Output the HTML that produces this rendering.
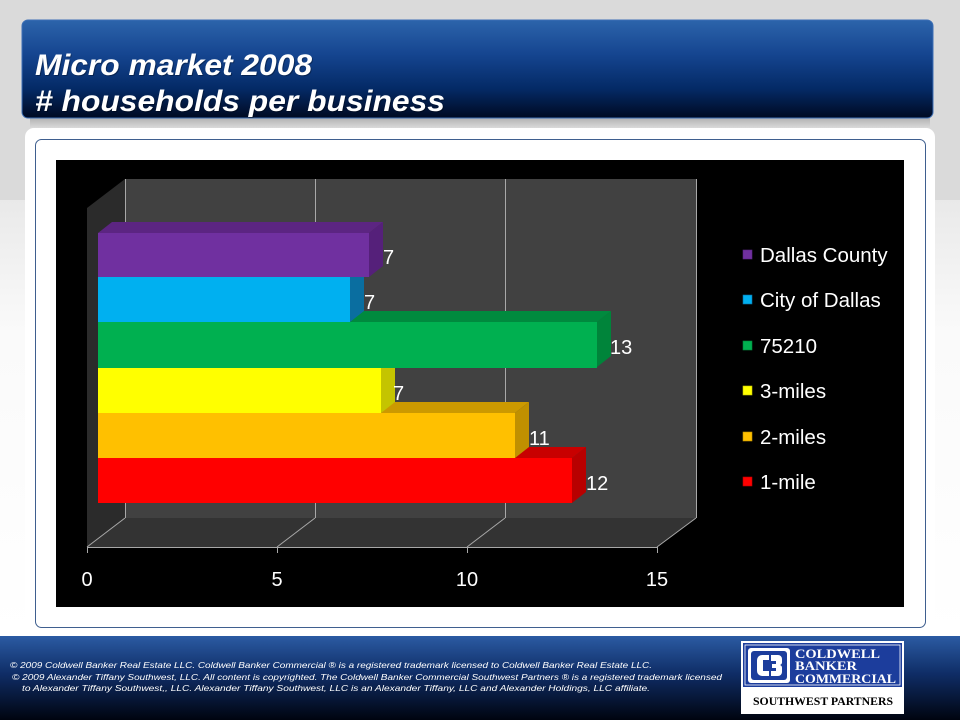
<!DOCTYPE html>
<html><head><meta charset="utf-8"><style>
html,body{margin:0;padding:0;width:960px;height:720px;overflow:hidden;background:#fff}
svg{display:block}
</style></head><body>
<svg width="960" height="720" viewBox="0 0 960 720" xmlns="http://www.w3.org/2000/svg" font-family="'Liberation Sans', Arial, sans-serif">
<defs>
<linearGradient id="bgLow" x1="0" y1="0" x2="0" y2="1">
<stop offset="0" stop-color="#e9e9e9"/><stop offset="0.3" stop-color="#fafafa"/><stop offset="1" stop-color="#ffffff"/>
</linearGradient>
<linearGradient id="title" x1="0" y1="0" x2="0" y2="1">
<stop offset="0" stop-color="#2c64ab"/><stop offset="0.35" stop-color="#154590"/><stop offset="0.7" stop-color="#042a66"/><stop offset="1" stop-color="#000a22"/>
</linearGradient>
<linearGradient id="foot" x1="0" y1="0" x2="0" y2="1">
<stop offset="0" stop-color="#2b5ba3"/><stop offset="0.45" stop-color="#0f2d66"/><stop offset="1" stop-color="#00040f"/>
</linearGradient>
<linearGradient id="shadow" x1="0" y1="0" x2="0" y2="1">
<stop offset="0" stop-color="#8a8a8a"/><stop offset="1" stop-color="#d9d9d9"/>
</linearGradient>
</defs>

<!-- background -->
<rect x="0" y="0" width="960" height="200" fill="#dadada"/>
<rect x="0" y="200" width="960" height="436" fill="url(#bgLow)"/>

<!-- title shadow -->
<rect x="30" y="116" width="900" height="12" fill="url(#shadow)" opacity="0.6"/>
<!-- title bar -->
<rect x="22" y="20" width="911" height="98" rx="6" fill="url(#title)" stroke="#3d6fb5" stroke-width="1"/>
<g font-weight="bold" font-style="italic" font-size="30" fill="#000" opacity="0.3">
<text x="36" y="76" textLength="277" lengthAdjust="spacingAndGlyphs">Micro market 2008</text>
<text x="36" y="112" textLength="410" lengthAdjust="spacingAndGlyphs"># households per business</text>
</g>
<g font-weight="bold" font-style="italic" font-size="30" fill="#ffffff">
<text x="35" y="75" textLength="277" lengthAdjust="spacingAndGlyphs">Micro market 2008</text>
<text x="35" y="111" textLength="410" lengthAdjust="spacingAndGlyphs"># households per business</text>
</g>

<!-- panel -->
<rect x="25" y="128" width="910" height="506" rx="9" fill="#ffffff"/>
<rect x="35.5" y="139.5" width="890" height="488" rx="6" fill="#ffffff" stroke="#3f5f8f" stroke-width="1"/>

<!-- chart area -->
<rect x="56" y="160" width="848" height="447" fill="#000000"/>

<!-- back wall -->
<rect x="125" y="179" width="571" height="339" fill="#414141"/>
<!-- left wall -->
<polygon points="87,208 125,179 125,518 87,547" fill="#2b2b2b"/>
<!-- floor -->
<polygon points="87,547 125,518 696,518 657,547" fill="#333333"/>

<!-- gridlines -->
<g stroke="#a8a8a8" stroke-width="1" fill="none">
<line x1="125.5" y1="179" x2="125.5" y2="518"/>
<line x1="315.5" y1="179" x2="315.5" y2="518"/>
<line x1="505.5" y1="179" x2="505.5" y2="518"/>
<line x1="696.5" y1="179" x2="696.5" y2="518"/>
<line x1="125" y1="518" x2="87" y2="547"/>
<line x1="315" y1="518" x2="277" y2="547"/>
<line x1="505" y1="518" x2="467" y2="547"/>
<line x1="696" y1="518" x2="657" y2="547"/>
<line x1="87" y1="547.5" x2="657" y2="547.5"/>
<line x1="87.5" y1="547" x2="87.5" y2="553"/>
<line x1="277.5" y1="547" x2="277.5" y2="553"/>
<line x1="467.5" y1="547" x2="467.5" y2="553"/>
<line x1="657.5" y1="547" x2="657.5" y2="553"/>
</g>

<!-- bars: drawn bottom to top -->
<polygon points="98,458 112,447 586,447 572,458" fill="#c80000"/>
<polygon points="572,458 586,447 586,492 572,503" fill="#b80000"/>
<rect x="98" y="458" width="474" height="45" fill="#ff0000"/>
<polygon points="98,413 112,402 529,402 515,413" fill="#cc9900"/>
<polygon points="515,413 529,402 529,447 515,458" fill="#c09000"/>
<rect x="98" y="413" width="417" height="45" fill="#ffc000"/>
<polygon points="98,368 112,357 395,357 381,368" fill="#cccc00"/>
<polygon points="381,368 395,357 395,402 381,413" fill="#c4c400"/>
<rect x="98" y="368" width="283" height="45" fill="#ffff00"/>
<polygon points="98,322 112,311 611,311 597,322" fill="#008a3e"/>
<polygon points="597,322 611,311 611,356 597,367" fill="#00843a"/>
<rect x="98" y="322" width="499" height="46" fill="#00b050"/>
<polygon points="98,277 112,266 364,266 350,277" fill="#0a8cc0"/>
<polygon points="350,277 364,266 364,311 350,322" fill="#0a6ea0"/>
<rect x="98" y="277" width="252" height="45" fill="#00b0f0"/>
<polygon points="98,233 112,222 383,222 369,233" fill="#5c2582"/>
<polygon points="369,233 383,222 383,266 369,277" fill="#55207a"/>
<rect x="98" y="233" width="271" height="44" fill="#7030a0"/>

<!-- data labels -->
<g fill="#ffffff" font-size="20">
<text x="383" y="264">7</text>
<text x="364" y="309">7</text>
<text x="610" y="354">13</text>
<text x="393" y="400">7</text>
<text x="529" y="445">11</text>
<text x="586" y="490">12</text>
</g>

<!-- axis labels -->
<g fill="#ffffff" font-size="20" text-anchor="middle">
<text x="87" y="586">0</text>
<text x="277" y="586">5</text>
<text x="467" y="586">10</text>
<text x="657" y="586">15</text>
</g>

<!-- legend -->
<g>
<rect x="743" y="250" width="9" height="9" fill="#7030a0" stroke="#5a2585" stroke-width="0.6"/>
<rect x="743" y="295" width="9" height="9" fill="#00b0f0" stroke="#0a6ea0" stroke-width="0.6"/>
<rect x="743" y="341" width="9" height="9" fill="#00b050" stroke="#00843a" stroke-width="0.6"/>
<rect x="743" y="386" width="9" height="9" fill="#ffff00" stroke="#c4c400" stroke-width="0.6"/>
<rect x="743" y="432" width="9" height="9" fill="#ffc000" stroke="#c09000" stroke-width="0.6"/>
<rect x="743" y="477" width="9" height="9" fill="#ff0000" stroke="#b80000" stroke-width="0.6"/>
</g>
<g fill="#ffffff" font-size="20.5">
<text x="760" y="262">Dallas County</text>
<text x="760" y="307">City of Dallas</text>
<text x="760" y="353">75210</text>
<text x="760" y="398">3-miles</text>
<text x="760" y="444">2-miles</text>
<text x="760" y="489">1-mile</text>
</g>

<!-- footer -->
<rect x="0" y="636" width="960" height="84" fill="url(#foot)"/>
<g fill="#ffffff" font-size="8.5" font-style="italic">
<text x="10" y="668" textLength="642" lengthAdjust="spacingAndGlyphs">©  2009 Coldwell Banker Real Estate  LLC. Coldwell Banker Commercial ® is a registered trademark licensed to Coldwell Banker Real Estate LLC.</text>
<text x="12" y="680" textLength="710" lengthAdjust="spacingAndGlyphs">© 2009  Alexander Tiffany Southwest, LLC. All content is copyrighted. The Coldwell Banker Commercial Southwest Partners ® is a registered trademark licensed</text>
<text x="22" y="691" textLength="628" lengthAdjust="spacingAndGlyphs">to Alexander Tiffany Southwest,, LLC.  Alexander Tiffany Southwest, LLC is an Alexander Tiffany, LLC and Alexander Holdings, LLC affiliate.</text>
</g>

<!-- logo -->
<rect x="741" y="641" width="163" height="73" fill="#ffffff"/>
<rect x="743" y="643" width="159" height="44" fill="#1c3d9c"/>
<rect x="745" y="645" width="155" height="40" fill="none" stroke="#ffffff" stroke-width="0.8"/>
<rect x="748" y="648" width="42" height="35" rx="3" fill="#ffffff"/>
<rect x="751" y="651" width="36" height="29" rx="3" fill="#1c3d9c"/>
<path d="M769 655 h-7 a5 5 0 0 0 -5 5 v11 a5 5 0 0 0 5 5 h7 v-5 h-6 v-11 h6 z" fill="#ffffff"/>
<path d="M771 655 h7 a4 4 0 0 1 4 4 v3 a3 3 0 0 1 -2 3 a3 3 0 0 1 2 3 v4 a4 4 0 0 1 -4 4 h-7 v-5 h5 v-3 h-4 v-4 h4 v-3 h-5 z" fill="#ffffff"/>
<g fill="#ffffff" font-family="'Liberation Serif', 'Times New Roman', serif" font-weight="bold" font-size="13">
<text x="795" y="658" textLength="85" lengthAdjust="spacingAndGlyphs">COLDWELL</text>
<text x="795" y="670" textLength="62" lengthAdjust="spacingAndGlyphs">BANKER</text>
<text x="795" y="683" textLength="101" lengthAdjust="spacingAndGlyphs">COMMERCIAL</text>
</g>
<text x="753" y="705" fill="#000000" font-family="'Liberation Serif', 'Times New Roman', serif" font-weight="bold" font-size="11.5" textLength="140" lengthAdjust="spacingAndGlyphs">SOUTHWEST PARTNERS</text>
</svg>
</body></html>
